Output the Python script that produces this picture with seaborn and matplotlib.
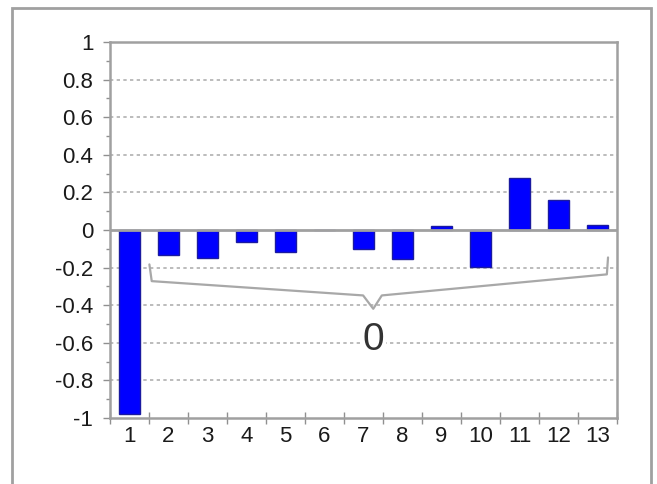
import matplotlib
matplotlib.use("Agg")
import matplotlib.pyplot as plt
import seaborn as sns
import pandas as pd
from matplotlib.patches import Rectangle
from matplotlib.ticker import MultipleLocator, FuncFormatter, FixedLocator

categories = [str(i) for i in range(1, 14)]
values = [-0.98, -0.133, -0.147, -0.064, -0.115, 0.0, -0.103, -0.153, 0.02, -0.197, 0.276, 0.157, 0.027]

# brace annotation path (data units)
brace_x = [0.51, 0.57, 5.99, 6.25, 6.47, 12.24, 12.27]
brace_y = [-0.183, -0.272, -0.348, -0.419, -0.348, -0.236, -0.146]
brace_label = "0"
brace_label_pos = (6.25, -0.587)

sns.set_theme(style="white")
plt.rcParams['font.family'] = ['Liberation Sans', 'DejaVu Sans']

fig = plt.figure(figsize=(6.57, 4.84), dpi=100)
fig.patch.set_facecolor("white")
ax = fig.add_axes([110/657, 1-418/484, 507/657, 376/484])

df = pd.DataFrame({"cat": categories, "val": values})
sns.barplot(data=df, x="cat", y="val", ax=ax, color="#0000ff", width=0.55,
            edgecolor="#1a1aa0", linewidth=1.0, saturation=1)

ax.set_xlim(-0.5, 12.5)
ax.set_ylim(-1, 1)
ax.set_xlabel("")
ax.set_ylabel("")

# grid
for yv in [-0.8, -0.6, -0.4, -0.2, 0.2, 0.4, 0.6, 0.8]:
    ax.axhline(yv, color="#b0b0b0", linestyle=(0, (2, 2)), linewidth=1.2, zorder=0)
ax.axhline(0, color="#a0a0a0", linewidth=2.0, zorder=1)

for s in ax.spines.values():
    s.set_color("#a0a0a0")
    s.set_linewidth(1.8)

ax.yaxis.set_major_locator(MultipleLocator(0.2))
ax.yaxis.set_minor_locator(MultipleLocator(0.1))
def fmt(v, pos):
    v = round(v, 1)
    if abs(v) < 1e-9:
        return "0"
    if abs(v - round(v)) < 1e-9:
        return str(int(round(v)))
    return ("%.1f" % v)
ax.yaxis.set_major_formatter(FuncFormatter(fmt))
ax.xaxis.set_minor_locator(FixedLocator([i + 0.5 for i in range(-1, 13)]))
ax.tick_params(axis="y", which="major", length=5, width=1, color="#909090",
               direction="out", left=True, labelsize=16, pad=7, labelcolor="#1a1a1a")
ax.tick_params(axis="y", which="minor", length=3, width=1, color="#909090",
               direction="out", left=True)
ax.tick_params(axis="x", which="major", length=0, labelsize=16, pad=6, labelcolor="#1a1a1a")
ax.tick_params(axis="x", which="minor", length=8, width=1, color="#909090",
               direction="inout", bottom=True)

ax.plot(brace_x, brace_y, color="#a8a8a8", linewidth=1.6, zorder=3, clip_on=False)
ax.text(brace_label_pos[0], brace_label_pos[1], brace_label, fontsize=28,
        color="#333333", ha="center", va="center", zorder=4,
        bbox=dict(facecolor="white", edgecolor="none", pad=1))

fig.patches.append(Rectangle((12/657, -0.1), (651-12)/657, 1.1 - 8/484,
                             transform=fig.transFigure, fill=False,
                             edgecolor="#a0a0a0", linewidth=2))

fig.savefig("out.png", dpi=100)
